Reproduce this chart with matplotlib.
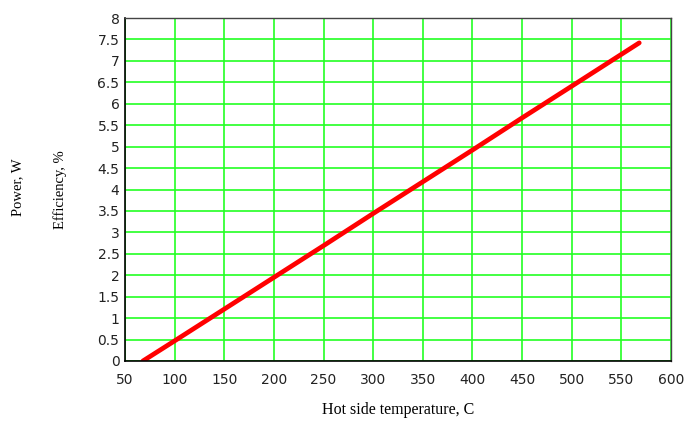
import numpy as np
import matplotlib.pyplot as plt

# hot side temperature, C
temp = np.array([68, 100, 150, 200, 250, 300, 350, 400, 450, 500, 568])
# power / efficiency readout
power = np.array([0.0, 0.47, 1.21, 1.95, 2.69, 3.44, 4.18, 4.92, 5.67, 6.41, 7.42])

xticks = np.arange(50, 601, 50)
yticks = np.arange(0, 8.01, 0.5)
ytick_labels = ["%g" % v for v in yticks]

fig = plt.figure(figsize=(6.91, 4.29), dpi=100)
ax = fig.add_axes([125 / 691, 1 - 361 / 429, 546 / 691, 343 / 429])

ax.plot(temp, power, color="#ff0000", linewidth=3.4, solid_capstyle="round")

ax.set_xlim(50, 600)
ax.set_ylim(0, 8)
ax.set_xticks(xticks)
ax.set_yticks(yticks)
ax.set_yticklabels(ytick_labels)
ax.grid(True, color="#22ff22", linewidth=1.2)
ax.set_axisbelow(True)
ax.tick_params(axis="y", length=0, pad=4)
ax.tick_params(axis="x", length=0, pad=9)
for lbl in ax.get_xticklabels() + ax.get_yticklabels():
    lbl.set_family("DejaVu Sans")
    lbl.set_fontsize(10)
    lbl.set_color("#222222")

for s in ["left", "bottom"]:
    ax.spines[s].set_color("black")
    ax.spines[s].set_linewidth(1.2)
for s in ["top", "right"]:
    ax.spines[s].set_color("#444444")
    ax.spines[s].set_linewidth(1.0)

# axis labels
fig.text(18 / 691, 1 - 187 / 429, "Power, W", rotation=90, ha="center", va="center",
         family="Liberation Serif", fontsize=10.5)
fig.text(60 / 691, 1 - 190 / 429, "Efficiency, %", rotation=90, ha="center", va="center",
         family="Liberation Serif", fontsize=10.5)
fig.text(398 / 691, 1 - 410 / 429, "Hot side temperature, C", ha="center", va="center",
         family="Liberation Serif", fontsize=11.5)

fig.savefig("out.png", dpi=100)
